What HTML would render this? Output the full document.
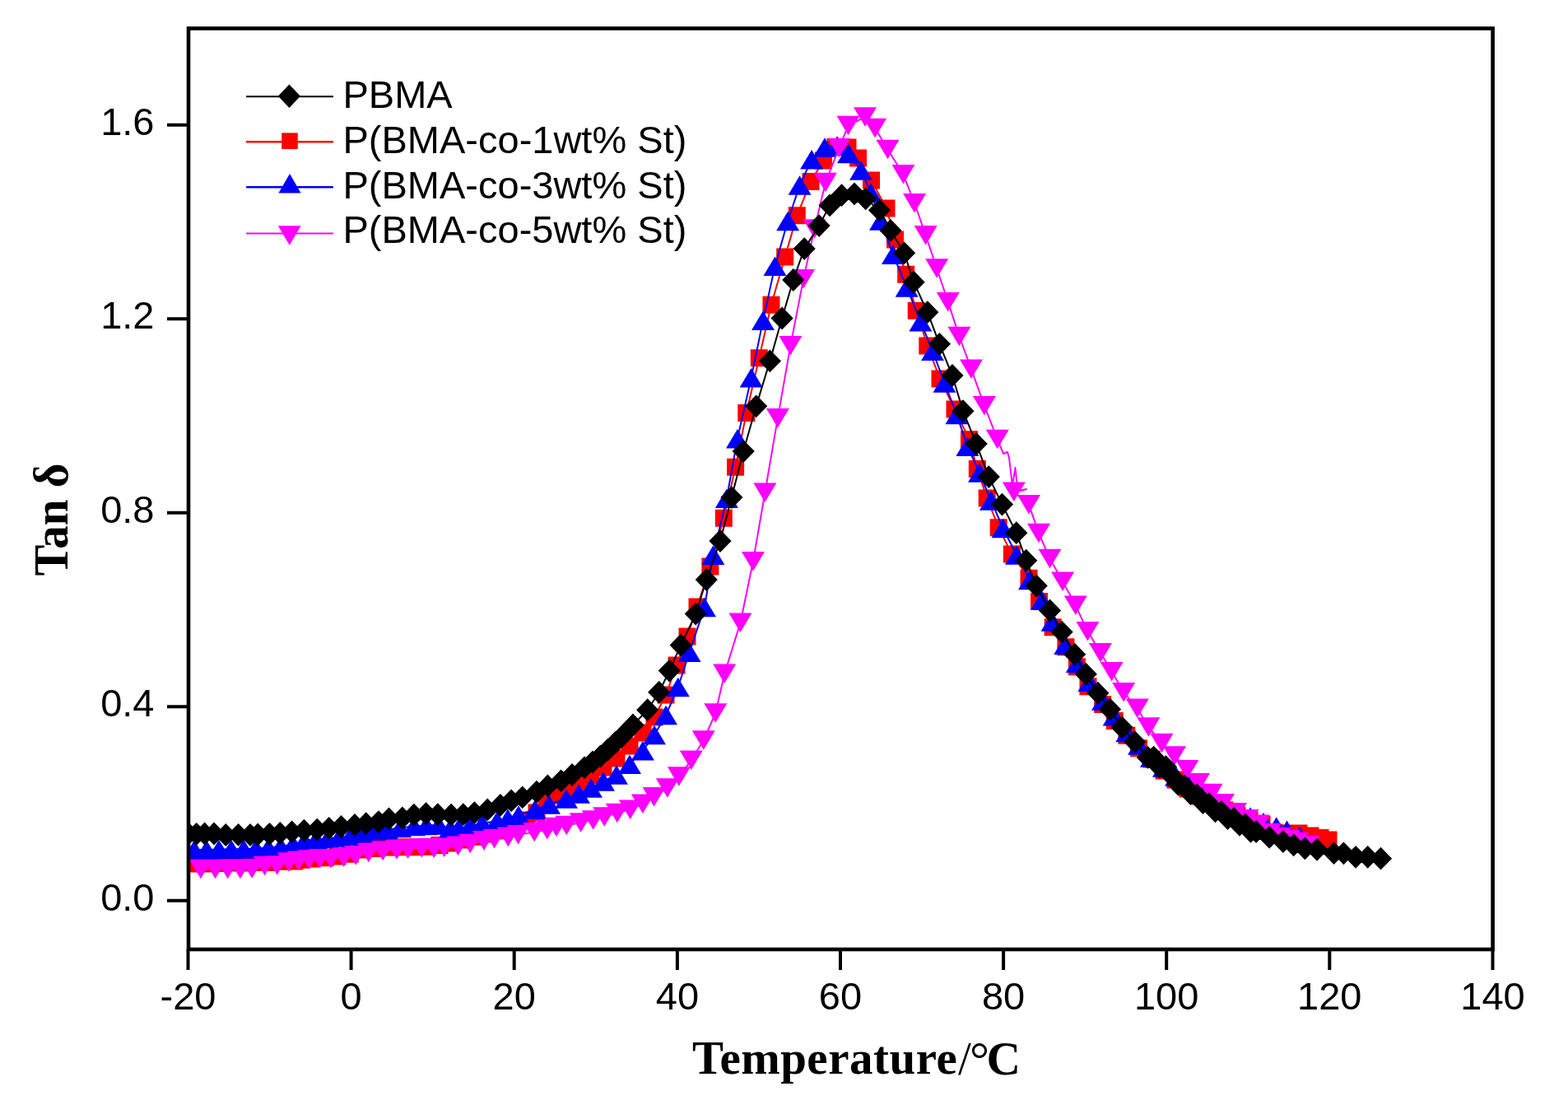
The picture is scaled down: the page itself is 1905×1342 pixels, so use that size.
<!DOCTYPE html>
<html><head><meta charset="utf-8"><title>Tan delta vs Temperature</title>
<style>html,body{margin:0;padding:0;background:#fff;}svg{display:block;}.tk{font-family:"Liberation Sans",Arial,sans-serif;font-size:47px;fill:#000;}.lg{font-family:"Liberation Sans",Arial,sans-serif;font-size:47px;fill:#000;}.ti{font-family:"Liberation Serif","Times New Roman",serif;font-weight:bold;fill:#000;}</style></head><body>
<svg width="1905" height="1342" viewBox="0 0 1905 1342">
<rect width="1905" height="1342" fill="#fff"/>
<defs><clipPath id="c"><rect x="229" y="34.5" width="1584.6" height="1118.5"/></clipPath></defs>
<g clip-path="url(#c)">
<polyline points="235,1049 252.8,1049 268.9,1048.5 284.1,1048 299.3,1048 313.7,1047.5 328.8,1047.4 344.6,1046.2 357.8,1045.9 366.6,1044.3 379.2,1043 395,1041.8 410.1,1039.9 425.2,1037.2 440.5,1032 457.3,1030.5 473.5,1029 489.3,1028.7 504,1028.7 519.7,1028.2 534,1026.5 549.1,1024 564,1020 579.6,1016.2 592,1013 605,1009 617,1005 628,1001 640,996 652,987 664,976 676,966 688,957 703,950 718,942 733,932 749,921 765,906 781,890 795,871 809,844 822,808 835,773 847,737 862.9,688 879.3,629.2 893.6,567.2 906.8,501.6 922.3,434.8 937,370.2 953.7,312.1 968.3,261.8 985,220.5 1000.4,195 1015,178.5 1030,179 1042.5,192 1058.5,219 1077,253 1087.5,291 1100.7,333.3 1113.2,377.2 1126.8,419.9 1142,460 1160,497 1177.5,533.7 1187.3,569.4 1199.2,605.1 1213.2,640.7 1229.4,673.1 1250,702.3 1262.5,730.5 1279.2,761.8 1294.9,785.8 1308.4,809.7 1322,833.7 1339.7,855.6 1354.3,875.5 1368.9,893.2 1383.5,908.8 1399.2,922 1414,936 1428,947 1443,958 1458,967 1473,976 1488,984 1503,990.5 1518,996.5 1533,1001.5 1548,1011 1565,1012 1578,1012 1592,1015 1604,1017.5 1614,1020" fill="none" stroke="#ff0000" stroke-width="2.0" stroke-linejoin="round"/>
<path d="M224.5 1038.5h21v21h-21ZM242.3 1038.5h21v21h-21ZM258.4 1038h21v21h-21ZM273.6 1037.5h21v21h-21ZM288.8 1037.5h21v21h-21ZM303.2 1037h21v21h-21ZM318.3 1036.9h21v21h-21ZM334.1 1035.7h21v21h-21ZM347.3 1035.4h21v21h-21ZM356.1 1033.8h21v21h-21ZM368.7 1032.5h21v21h-21ZM384.5 1031.3h21v21h-21ZM399.6 1029.4h21v21h-21ZM414.7 1026.7h21v21h-21ZM430 1021.5h21v21h-21ZM446.8 1020h21v21h-21ZM463 1018.5h21v21h-21ZM478.8 1018.2h21v21h-21ZM493.5 1018.2h21v21h-21ZM509.2 1017.7h21v21h-21ZM523.5 1016h21v21h-21ZM538.6 1013.5h21v21h-21ZM553.5 1009.5h21v21h-21ZM569.1 1005.7h21v21h-21ZM581.5 1002.5h21v21h-21ZM594.5 998.5h21v21h-21ZM606.5 994.5h21v21h-21ZM617.5 990.5h21v21h-21ZM629.5 985.5h21v21h-21ZM641.5 976.5h21v21h-21ZM653.5 965.5h21v21h-21ZM665.5 955.5h21v21h-21ZM677.5 946.5h21v21h-21ZM692.5 939.5h21v21h-21ZM707.5 931.5h21v21h-21ZM722.5 921.5h21v21h-21ZM738.5 910.5h21v21h-21ZM754.5 895.5h21v21h-21ZM770.5 879.5h21v21h-21ZM784.5 860.5h21v21h-21ZM798.5 833.5h21v21h-21ZM811.5 797.5h21v21h-21ZM824.5 762.5h21v21h-21ZM836.5 726.5h21v21h-21ZM852.4 677.5h21v21h-21ZM868.8 618.7h21v21h-21ZM883.1 556.7h21v21h-21ZM896.3 491.1h21v21h-21ZM911.8 424.3h21v21h-21ZM926.5 359.7h21v21h-21ZM943.2 301.6h21v21h-21ZM957.8 251.3h21v21h-21ZM974.5 210h21v21h-21ZM989.9 184.5h21v21h-21ZM1004.5 168h21v21h-21ZM1019.5 168.5h21v21h-21ZM1032 181.5h21v21h-21ZM1048 208.5h21v21h-21ZM1066.5 242.5h21v21h-21ZM1077 280.5h21v21h-21ZM1090.2 322.8h21v21h-21ZM1102.7 366.7h21v21h-21ZM1116.3 409.4h21v21h-21ZM1131.5 449.5h21v21h-21ZM1149.5 486.5h21v21h-21ZM1167 523.2h21v21h-21ZM1176.8 558.9h21v21h-21ZM1188.7 594.6h21v21h-21ZM1202.7 630.2h21v21h-21ZM1218.9 662.6h21v21h-21ZM1239.5 691.8h21v21h-21ZM1252 720h21v21h-21ZM1268.7 751.3h21v21h-21ZM1284.4 775.3h21v21h-21ZM1297.9 799.2h21v21h-21ZM1311.5 823.2h21v21h-21ZM1329.2 845.1h21v21h-21ZM1343.8 865h21v21h-21ZM1358.4 882.7h21v21h-21ZM1373 898.3h21v21h-21ZM1388.7 911.5h21v21h-21ZM1403.5 925.5h21v21h-21ZM1417.5 936.5h21v21h-21ZM1432.5 947.5h21v21h-21ZM1447.5 956.5h21v21h-21ZM1462.5 965.5h21v21h-21ZM1477.5 973.5h21v21h-21ZM1492.5 980h21v21h-21ZM1507.5 986h21v21h-21ZM1522.5 991h21v21h-21ZM1537.5 1000.5h21v21h-21ZM1554.5 1001.5h21v21h-21ZM1567.5 1001.5h21v21h-21ZM1581.5 1004.5h21v21h-21ZM1593.5 1007h21v21h-21ZM1603.5 1009.5h21v21h-21Z" fill="#ff0000"/>
<polyline points="236,1032 251,1032 266,1031.5 281,1031.5 296,1031 311,1030.5 326,1029.5 341,1028 356,1025.5 370,1021 384,1019.5 398,1018.5 412,1017 426,1015 440,1012 456,1009 470,1007.5 486,1005.5 503,1003.5 518,1002.5 533,1002 547,1006 557,1006 571,1003 586,1000 604,997 617,994 630,990 650,983 667,977 688,970 703,964 718,957 733,949 749,941 765,928.3 780.9,911.6 795,892.5 809,868.5 823.8,834.5 837.6,792.2 856,737.5 866.4,674.2 882.9,605.3 896,532.6 912.7,458.7 927,389.4 941.5,323.3 957.1,268.5 971.6,225 986.1,193.7 1002,179 1017.1,177 1031,186.5 1046,207 1058,234 1070,268 1085,309.4 1101.7,349 1118.4,390.7 1133,426.2 1147.5,465 1162.4,503.5 1175.4,542.4 1190,574 1204,608 1218.6,641.5 1235,674 1251,704.5 1266,729 1278.6,755 1294.2,783.3 1308.8,805.2 1323.4,828.1 1340,851 1353.7,869.8 1369.3,889.5 1384,905 1399,920 1414,932 1429,943 1444,953 1459,962 1474,971 1489,979 1504,986 1519,992 1535,998.5 1550.7,1004 1563.5,1008.4 1579,1015.5" fill="none" stroke="#0000ff" stroke-width="2.0" stroke-linejoin="round"/>
<path d="M236 1020.2L250 1043.8L222 1043.8ZM251 1020.2L265 1043.8L237 1043.8ZM266 1019.8L280 1043.2L252 1043.2ZM281 1019.8L295 1043.2L267 1043.2ZM296 1019.2L310 1042.8L282 1042.8ZM311 1018.8L325 1042.2L297 1042.2ZM326 1017.8L340 1041.2L312 1041.2ZM341 1016.2L355 1039.8L327 1039.8ZM356 1013.8L370 1037.2L342 1037.2ZM370 1009.2L384 1032.8L356 1032.8ZM384 1007.8L398 1031.2L370 1031.2ZM398 1006.8L412 1030.2L384 1030.2ZM412 1005.2L426 1028.8L398 1028.8ZM426 1003.2L440 1026.8L412 1026.8ZM440 1000.2L454 1023.8L426 1023.8ZM456 997.2L470 1020.8L442 1020.8ZM470 995.8L484 1019.2L456 1019.2ZM486 993.8L500 1017.2L472 1017.2ZM503 991.8L517 1015.2L489 1015.2ZM518 990.8L532 1014.2L504 1014.2ZM533 990.2L547 1013.8L519 1013.8ZM547 994.2L561 1017.8L533 1017.8ZM557 994.2L571 1017.8L543 1017.8ZM571 991.2L585 1014.8L557 1014.8ZM586 988.2L600 1011.8L572 1011.8ZM604 985.2L618 1008.8L590 1008.8ZM617 982.2L631 1005.8L603 1005.8ZM630 978.2L644 1001.8L616 1001.8ZM650 971.2L664 994.8L636 994.8ZM667 965.2L681 988.8L653 988.8ZM688 958.2L702 981.8L674 981.8ZM703 952.2L717 975.8L689 975.8ZM718 945.2L732 968.8L704 968.8ZM733 937.2L747 960.8L719 960.8ZM749 929.2L763 952.8L735 952.8ZM765 916.5L779 940L751 940ZM780.9 899.9L794.9 923.4L766.9 923.4ZM795 880.8L809 904.2L781 904.2ZM809 856.8L823 880.2L795 880.2ZM823.8 822.8L837.8 846.2L809.8 846.2ZM837.6 780.5L851.6 804L823.6 804ZM856 725.8L870 749.2L842 749.2ZM866.4 662.5L880.4 686L852.4 686ZM882.9 593.5L896.9 617L868.9 617ZM896 520.9L910 544.4L882 544.4ZM912.7 446.9L926.7 470.4L898.7 470.4ZM927 377.6L941 401.1L913 401.1ZM941.5 311.6L955.5 335.1L927.5 335.1ZM957.1 256.8L971.1 280.2L943.1 280.2ZM971.6 213.2L985.6 236.8L957.6 236.8ZM986.1 181.9L1000.1 205.4L972.1 205.4ZM1002 167.2L1016 190.8L988 190.8ZM1017.1 165.2L1031.1 188.8L1003.1 188.8ZM1031 174.8L1045 198.2L1017 198.2ZM1046 195.2L1060 218.8L1032 218.8ZM1058 222.2L1072 245.8L1044 245.8ZM1070 256.2L1084 279.8L1056 279.8ZM1085 297.6L1099 321.1L1071 321.1ZM1101.7 337.2L1115.7 360.8L1087.7 360.8ZM1118.4 378.9L1132.4 402.4L1104.4 402.4ZM1133 414.4L1147 437.9L1119 437.9ZM1147.5 453.2L1161.5 476.8L1133.5 476.8ZM1162.4 491.8L1176.4 515.2L1148.4 515.2ZM1175.4 530.6L1189.4 554.1L1161.4 554.1ZM1190 562.2L1204 585.8L1176 585.8ZM1204 596.2L1218 619.8L1190 619.8ZM1218.6 629.8L1232.6 653.2L1204.6 653.2ZM1235 662.2L1249 685.8L1221 685.8ZM1251 692.8L1265 716.2L1237 716.2ZM1266 717.2L1280 740.8L1252 740.8ZM1278.6 743.2L1292.6 766.8L1264.6 766.8ZM1294.2 771.5L1308.2 795L1280.2 795ZM1308.8 793.5L1322.8 817L1294.8 817ZM1323.4 816.4L1337.4 839.9L1309.4 839.9ZM1340 839.2L1354 862.8L1326 862.8ZM1353.7 858L1367.7 881.5L1339.7 881.5ZM1369.3 877.8L1383.3 901.2L1355.3 901.2ZM1384 893.2L1398 916.8L1370 916.8ZM1399 908.2L1413 931.8L1385 931.8ZM1414 920.2L1428 943.8L1400 943.8ZM1429 931.2L1443 954.8L1415 954.8ZM1444 941.2L1458 964.8L1430 964.8ZM1459 950.2L1473 973.8L1445 973.8ZM1474 959.2L1488 982.8L1460 982.8ZM1489 967.2L1503 990.8L1475 990.8ZM1504 974.2L1518 997.8L1490 997.8ZM1519 980.2L1533 1003.8L1505 1003.8ZM1535 986.8L1549 1010.2L1521 1010.2ZM1550.7 992.2L1564.7 1015.8L1536.7 1015.8ZM1563.5 996.6L1577.5 1020.1L1549.5 1020.1ZM1579 1003.8L1593 1027.2L1565 1027.2Z" fill="#0000ff"/>
<polyline points="243.9,1055.5 261.5,1055.5 276.7,1055.5 291.9,1055.5 306.2,1055 321.6,1051.6 336.7,1051 350.9,1046.9 362.8,1045.3 375.5,1044 388.7,1042.8 401.9,1042.8 417.6,1040.9 432.1,1039 447.8,1035.6 465.1,1033.5 482,1031.9 495.6,1030.9 512.4,1029.8 527.1,1030.3 539.7,1029.3 556.5,1027.2 571.2,1024.6 588,1020.9 600.6,1018.8 617.4,1016.4 629.6,1013.8 649.2,1010.5 664.8,1007.7 676,1004.5 688.3,1002.5 705.7,999 720.7,996 734.2,992 749.8,987.5 765.7,983.1 780.9,976.4 794.6,967.7 810.8,957 824.9,943 839.8,923.3 854.8,899 869.3,866 880.2,818.3 899.5,756.3 915,681.7 929.4,598.2 944.9,507.6 960.4,419.6 976.1,338.9 989.5,278 1002.9,221.5 1019.5,179.5 1030.5,152.5 1051,142 1063.1,155.4 1078.5,181.5 1097.5,211.8 1111.1,246.8 1124.7,285.9 1138.2,326 1151.8,366.6 1165.4,408.5 1180,448.2 1195.9,492.7 1211.8,533.5 1219,551 1224,549 1226,556 1230,590 1233.5,568 1236,592 1241,596 1247,594 1231.9,597.2 1250,612.9 1262,647.5 1275.5,678.5 1291.1,706.1 1306.8,735.3 1321.4,766.6 1337,792.6 1350.6,815.6 1365.2,840.6 1381.8,860.4 1395.4,883 1411.5,902.5 1427,918 1442.3,934.6 1456,950.6 1471.6,963.5 1486,975.8 1501,986.8 1515.5,994.8 1529.2,1001.2 1542.7,1011.5 1555,1016.5 1566,1019.5 1576,1022.5 1589.5,1026.7" fill="none" stroke="#ff00ff" stroke-width="2.0" stroke-linejoin="round"/>
<path d="M229.9 1043.8L257.9 1043.8L243.9 1067.2ZM247.5 1043.8L275.5 1043.8L261.5 1067.2ZM262.7 1043.8L290.7 1043.8L276.7 1067.2ZM277.9 1043.8L305.9 1043.8L291.9 1067.2ZM292.2 1043.2L320.2 1043.2L306.2 1066.8ZM307.6 1039.8L335.6 1039.8L321.6 1063.3ZM322.7 1039.2L350.7 1039.2L336.7 1062.8ZM336.9 1035.2L364.9 1035.2L350.9 1058.7ZM348.8 1033.5L376.8 1033.5L362.8 1057ZM361.5 1032.2L389.5 1032.2L375.5 1055.8ZM374.7 1031L402.7 1031L388.7 1054.5ZM387.9 1031L415.9 1031L401.9 1054.5ZM403.6 1029.2L431.6 1029.2L417.6 1052.7ZM418.1 1027.2L446.1 1027.2L432.1 1050.8ZM433.8 1023.8L461.8 1023.8L447.8 1047.3ZM451.1 1021.8L479.1 1021.8L465.1 1045.2ZM468 1020.2L496 1020.2L482 1043.7ZM481.6 1019.2L509.6 1019.2L495.6 1042.7ZM498.4 1018L526.4 1018L512.4 1041.5ZM513.1 1018.5L541.1 1018.5L527.1 1042ZM525.7 1017.5L553.7 1017.5L539.7 1041ZM542.5 1015.5L570.5 1015.5L556.5 1039ZM557.2 1012.8L585.2 1012.8L571.2 1036.3ZM574 1009.1L602 1009.1L588 1032.7ZM586.6 1007L614.6 1007L600.6 1030.5ZM603.4 1004.6L631.4 1004.6L617.4 1028.2ZM615.6 1002L643.6 1002L629.6 1025.5ZM635.2 998.8L663.2 998.8L649.2 1022.2ZM650.8 996L678.8 996L664.8 1019.5ZM662 992.8L690 992.8L676 1016.2ZM674.3 990.8L702.3 990.8L688.3 1014.2ZM691.7 987.2L719.7 987.2L705.7 1010.8ZM706.7 984.2L734.7 984.2L720.7 1007.8ZM720.2 980.2L748.2 980.2L734.2 1003.8ZM735.8 975.8L763.8 975.8L749.8 999.2ZM751.7 971.4L779.7 971.4L765.7 994.9ZM766.9 964.6L794.9 964.6L780.9 988.1ZM780.6 956L808.6 956L794.6 979.5ZM796.8 945.2L824.8 945.2L810.8 968.8ZM810.9 931.2L838.9 931.2L824.9 954.8ZM825.8 911.5L853.8 911.5L839.8 935ZM840.8 887.2L868.8 887.2L854.8 910.8ZM855.3 854.2L883.3 854.2L869.3 877.8ZM866.2 806.5L894.2 806.5L880.2 830ZM885.5 744.5L913.5 744.5L899.5 768ZM901 670L929 670L915 693.5ZM915.4 586.5L943.4 586.5L929.4 610ZM930.9 495.9L958.9 495.9L944.9 519.4ZM946.4 407.9L974.4 407.9L960.4 431.4ZM962.1 327.1L990.1 327.1L976.1 350.6ZM975.5 266.2L1003.5 266.2L989.5 289.8ZM988.9 209.8L1016.9 209.8L1002.9 233.2ZM1005.5 167.8L1033.5 167.8L1019.5 191.2ZM1016.5 140.8L1044.5 140.8L1030.5 164.2ZM1037 130.2L1065 130.2L1051 153.8ZM1049.1 143.7L1077.1 143.7L1063.1 167.2ZM1064.5 169.8L1092.5 169.8L1078.5 193.2ZM1083.5 200.1L1111.5 200.1L1097.5 223.6ZM1097.1 235.1L1125.1 235.1L1111.1 258.6ZM1110.7 274.1L1138.7 274.1L1124.7 297.6ZM1124.2 314.2L1152.2 314.2L1138.2 337.8ZM1137.8 354.9L1165.8 354.9L1151.8 378.4ZM1151.4 396.8L1179.4 396.8L1165.4 420.2ZM1166 436.4L1194 436.4L1180 459.9ZM1181.9 480.9L1209.9 480.9L1195.9 504.4ZM1197.8 521.8L1225.8 521.8L1211.8 545.2ZM1217.9 585.5L1245.9 585.5L1231.9 609ZM1236 601.1L1264 601.1L1250 624.6ZM1248 635.8L1276 635.8L1262 659.2ZM1261.5 666.8L1289.5 666.8L1275.5 690.2ZM1277.1 694.4L1305.1 694.4L1291.1 717.9ZM1292.8 723.5L1320.8 723.5L1306.8 747ZM1307.4 754.9L1335.4 754.9L1321.4 778.4ZM1323 780.9L1351 780.9L1337 804.4ZM1336.6 803.9L1364.6 803.9L1350.6 827.4ZM1351.2 828.9L1379.2 828.9L1365.2 852.4ZM1367.8 848.6L1395.8 848.6L1381.8 872.1ZM1381.4 871.2L1409.4 871.2L1395.4 894.8ZM1397.5 890.8L1425.5 890.8L1411.5 914.2ZM1413 906.2L1441 906.2L1427 929.8ZM1428.3 922.9L1456.3 922.9L1442.3 946.4ZM1442 938.9L1470 938.9L1456 962.4ZM1457.6 951.8L1485.6 951.8L1471.6 975.2ZM1472 964L1500 964L1486 987.5ZM1487 975L1515 975L1501 998.5ZM1501.5 983L1529.5 983L1515.5 1006.5ZM1515.2 989.5L1543.2 989.5L1529.2 1013ZM1528.7 999.8L1556.7 999.8L1542.7 1023.2ZM1541 1004.8L1569 1004.8L1555 1028.2ZM1552 1007.8L1580 1007.8L1566 1031.2ZM1562 1010.8L1590 1010.8L1576 1034.2ZM1575.5 1015L1603.5 1015L1589.5 1038.5Z" fill="#ff00ff"/>
<polyline points="229,1012.5 238.7,1012.8 248.6,1012.5 260,1012.5 274.3,1014 289.6,1013.8 304,1014 313.2,1013.5 327.5,1012.8 340.3,1011.8 354.6,1010.3 369.4,1008.7 385.2,1007.6 399.7,1005.8 414.5,1004 431,1002 444.7,1000.2 459.9,998.1 472.5,994.4 488.8,993.4 502.9,989.7 517.6,988.1 531.8,989.2 548.1,989.7 562.8,989.2 576.4,987.1 592.2,983.4 607.9,977.8 621.2,972.3 634.7,968.4 652,961.7 665.4,954.4 681.6,948.3 695,941 710.1,932.1 720,925.5 729.5,918.5 738.5,910.5 747.5,902 756.5,893.5 769,880.5 786.7,862.2 800.7,840.7 813.3,814.6 827.2,783.5 845.3,745.6 858.3,704 875,657 888.9,604.1 903.2,548.1 918.7,493.3 935.4,438.4 950.1,386.5 963.8,340 977.2,302.1 995.1,274.1 1008.1,249.4 1022.5,237.2 1038,235.3 1051.7,241.3 1068.5,255.2 1082,280 1098.6,307.3 1110.1,342.7 1126.8,379.2 1141.4,417.8 1157,456 1170,499.2 1186.2,539.1 1201.3,579.1 1217.5,612.6 1234.8,647.2 1246.7,680.7 1259.2,711.5 1275.5,741.5 1290.1,767.6 1305.7,794.7 1319.3,818.7 1333.9,841.7 1348.5,861.5 1363.1,883.4 1378.7,901.1 1394.4,919.9 1401.7,919.7 1409,931.5 1416.5,931.2 1424,943 1431.5,952.8 1439,954.5 1446.5,964 1454,965.5 1461.5,975 1469,976.5 1476.5,985.3 1484,986 1491.5,994 1499,994 1506,1001.8 1513,1001.5 1519.5,1009.8 1526.1,1010 1542.2,1016.9 1558.9,1022.1 1571.7,1026.3 1585.4,1030.4 1600,1031.8 1620.6,1036.1 1632.4,1036.3 1647.1,1040.8 1661.7,1040.8 1677.5,1042.7" fill="none" stroke="#000000" stroke-width="2.0" stroke-linejoin="round"/>
<path d="M229 998.6L242.6 1012.5L229 1026.4L215.4 1012.5ZM238.7 998.9L252.3 1012.8L238.7 1026.7L225.1 1012.8ZM248.6 998.6L262.2 1012.5L248.6 1026.4L235 1012.5ZM260 998.6L273.6 1012.5L260 1026.4L246.4 1012.5ZM274.3 1000.1L287.9 1014L274.3 1027.9L260.7 1014ZM289.6 999.9L303.2 1013.8L289.6 1027.7L276 1013.8ZM304 1000.1L317.6 1014L304 1027.9L290.4 1014ZM313.2 999.6L326.8 1013.5L313.2 1027.4L299.6 1013.5ZM327.5 998.9L341.1 1012.8L327.5 1026.7L313.9 1012.8ZM340.3 997.9L353.9 1011.8L340.3 1025.7L326.7 1011.8ZM354.6 996.4L368.2 1010.3L354.6 1024.2L341 1010.3ZM369.4 994.8L383 1008.7L369.4 1022.6L355.8 1008.7ZM385.2 993.7L398.8 1007.6L385.2 1021.5L371.6 1007.6ZM399.7 991.9L413.3 1005.8L399.7 1019.7L386.1 1005.8ZM414.5 990.1L428.1 1004L414.5 1017.9L400.9 1004ZM431 988.1L444.6 1002L431 1015.9L417.4 1002ZM444.7 986.3L458.3 1000.2L444.7 1014.1L431.1 1000.2ZM459.9 984.2L473.5 998.1L459.9 1012L446.3 998.1ZM472.5 980.5L486.1 994.4L472.5 1008.3L458.9 994.4ZM488.8 979.5L502.4 993.4L488.8 1007.3L475.2 993.4ZM502.9 975.8L516.5 989.7L502.9 1003.6L489.3 989.7ZM517.6 974.2L531.2 988.1L517.6 1002L504 988.1ZM531.8 975.3L545.4 989.2L531.8 1003.1L518.2 989.2ZM548.1 975.8L561.7 989.7L548.1 1003.6L534.5 989.7ZM562.8 975.3L576.4 989.2L562.8 1003.1L549.2 989.2ZM576.4 973.2L590 987.1L576.4 1001L562.8 987.1ZM592.2 969.5L605.8 983.4L592.2 997.3L578.6 983.4ZM607.9 963.9L621.5 977.8L607.9 991.7L594.3 977.8ZM621.2 958.4L634.8 972.3L621.2 986.2L607.6 972.3ZM634.7 954.5L648.3 968.4L634.7 982.3L621.1 968.4ZM652 947.8L665.6 961.7L652 975.6L638.4 961.7ZM665.4 940.5L679 954.4L665.4 968.3L651.8 954.4ZM681.6 934.4L695.2 948.3L681.6 962.2L668 948.3ZM695 927.1L708.6 941L695 954.9L681.4 941ZM710.1 918.2L723.7 932.1L710.1 946L696.5 932.1ZM720 911.6L733.6 925.5L720 939.4L706.4 925.5ZM729.5 904.6L743.1 918.5L729.5 932.4L715.9 918.5ZM738.5 896.6L752.1 910.5L738.5 924.4L724.9 910.5ZM747.5 888.1L761.1 902L747.5 915.9L733.9 902ZM756.5 879.6L770.1 893.5L756.5 907.4L742.9 893.5ZM769 866.6L782.6 880.5L769 894.4L755.4 880.5ZM786.7 848.3L800.3 862.2L786.7 876.1L773.1 862.2ZM800.7 826.8L814.3 840.7L800.7 854.6L787.1 840.7ZM813.3 800.7L826.9 814.6L813.3 828.5L799.7 814.6ZM827.2 769.6L840.8 783.5L827.2 797.4L813.6 783.5ZM845.3 731.7L858.9 745.6L845.3 759.5L831.7 745.6ZM858.3 690.1L871.9 704L858.3 717.9L844.7 704ZM875 643.1L888.6 657L875 670.9L861.4 657ZM888.9 590.2L902.5 604.1L888.9 618L875.3 604.1ZM903.2 534.2L916.8 548.1L903.2 562L889.6 548.1ZM918.7 479.4L932.3 493.3L918.7 507.2L905.1 493.3ZM935.4 424.5L949 438.4L935.4 452.3L921.8 438.4ZM950.1 372.6L963.7 386.5L950.1 400.4L936.5 386.5ZM963.8 326.1L977.4 340L963.8 353.9L950.2 340ZM977.2 288.2L990.8 302.1L977.2 316L963.6 302.1ZM995.1 260.2L1008.7 274.1L995.1 288L981.5 274.1ZM1008.1 235.5L1021.7 249.4L1008.1 263.3L994.5 249.4ZM1022.5 223.3L1036.1 237.2L1022.5 251.1L1008.9 237.2ZM1038 221.4L1051.6 235.3L1038 249.2L1024.4 235.3ZM1051.7 227.4L1065.3 241.3L1051.7 255.2L1038.1 241.3ZM1068.5 241.3L1082.1 255.2L1068.5 269.1L1054.9 255.2ZM1082 266.1L1095.6 280L1082 293.9L1068.4 280ZM1098.6 293.4L1112.2 307.3L1098.6 321.2L1085 307.3ZM1110.1 328.8L1123.7 342.7L1110.1 356.6L1096.5 342.7ZM1126.8 365.3L1140.4 379.2L1126.8 393.1L1113.2 379.2ZM1141.4 403.9L1155 417.8L1141.4 431.7L1127.8 417.8ZM1157 442.1L1170.6 456L1157 469.9L1143.4 456ZM1170 485.3L1183.6 499.2L1170 513.1L1156.4 499.2ZM1186.2 525.2L1199.8 539.1L1186.2 553L1172.6 539.1ZM1201.3 565.2L1214.9 579.1L1201.3 593L1187.7 579.1ZM1217.5 598.7L1231.1 612.6L1217.5 626.5L1203.9 612.6ZM1234.8 633.3L1248.4 647.2L1234.8 661.1L1221.2 647.2ZM1246.7 666.8L1260.3 680.7L1246.7 694.6L1233.1 680.7ZM1259.2 697.6L1272.8 711.5L1259.2 725.4L1245.6 711.5ZM1275.5 727.6L1289.1 741.5L1275.5 755.4L1261.9 741.5ZM1290.1 753.7L1303.7 767.6L1290.1 781.5L1276.5 767.6ZM1305.7 780.8L1319.3 794.7L1305.7 808.6L1292.1 794.7ZM1319.3 804.8L1332.9 818.7L1319.3 832.6L1305.7 818.7ZM1333.9 827.8L1347.5 841.7L1333.9 855.6L1320.3 841.7ZM1348.5 847.6L1362.1 861.5L1348.5 875.4L1334.9 861.5ZM1363.1 869.5L1376.7 883.4L1363.1 897.3L1349.5 883.4ZM1378.7 887.2L1392.3 901.1L1378.7 915L1365.1 901.1ZM1394.4 906L1408 919.9L1394.4 933.8L1380.8 919.9ZM1401.7 905.8L1415.3 919.7L1401.7 933.6L1388.1 919.7ZM1409 917.6L1422.6 931.5L1409 945.4L1395.4 931.5ZM1416.5 917.3L1430.1 931.2L1416.5 945.1L1402.9 931.2ZM1424 929.1L1437.6 943L1424 956.9L1410.4 943ZM1431.5 938.9L1445.1 952.8L1431.5 966.7L1417.9 952.8ZM1439 940.6L1452.6 954.5L1439 968.4L1425.4 954.5ZM1446.5 950.1L1460.1 964L1446.5 977.9L1432.9 964ZM1454 951.6L1467.6 965.5L1454 979.4L1440.4 965.5ZM1461.5 961.1L1475.1 975L1461.5 988.9L1447.9 975ZM1469 962.6L1482.6 976.5L1469 990.4L1455.4 976.5ZM1476.5 971.4L1490.1 985.3L1476.5 999.2L1462.9 985.3ZM1484 972.1L1497.6 986L1484 999.9L1470.4 986ZM1491.5 980.1L1505.1 994L1491.5 1007.9L1477.9 994ZM1499 980.1L1512.6 994L1499 1007.9L1485.4 994ZM1506 987.9L1519.6 1001.8L1506 1015.7L1492.4 1001.8ZM1513 987.6L1526.6 1001.5L1513 1015.4L1499.4 1001.5ZM1519.5 995.9L1533.1 1009.8L1519.5 1023.7L1505.9 1009.8ZM1526.1 996.1L1539.7 1010L1526.1 1023.9L1512.5 1010ZM1542.2 1003L1555.8 1016.9L1542.2 1030.8L1528.6 1016.9ZM1558.9 1008.2L1572.5 1022.1L1558.9 1036L1545.3 1022.1ZM1571.7 1012.4L1585.3 1026.3L1571.7 1040.2L1558.1 1026.3ZM1585.4 1016.5L1599 1030.4L1585.4 1044.3L1571.8 1030.4ZM1600 1017.9L1613.6 1031.8L1600 1045.7L1586.4 1031.8ZM1620.6 1022.2L1634.2 1036.1L1620.6 1050L1607 1036.1ZM1632.4 1022.4L1646 1036.3L1632.4 1050.2L1618.8 1036.3ZM1647.1 1026.9L1660.7 1040.8L1647.1 1054.7L1633.5 1040.8ZM1661.7 1026.9L1675.3 1040.8L1661.7 1054.7L1648.1 1040.8ZM1677.5 1028.8L1691.1 1042.7L1677.5 1056.6L1663.9 1042.7Z" fill="#000000"/>
</g>
<rect x="229" y="34.5" width="1584.6" height="1118.5" fill="none" stroke="#000" stroke-width="4.6"/>
<path d="M228.5 1153V1178M426.6 1153V1178M624.7 1153V1178M822.9 1153V1178M1021 1153V1178M1219.1 1153V1178M1417.2 1153V1178M1615.3 1153V1178M1813.5 1153V1178M229 1093.8H203M229 858.3H203M229 622.8H203M229 387.3H203M229 151.8H203" stroke="#000" stroke-width="4" fill="none"/>
<text class="tk" x="228.5" y="1226.1" text-anchor="middle">-20</text>
<text class="tk" x="426.6" y="1226.1" text-anchor="middle">0</text>
<text class="tk" x="624.7" y="1226.1" text-anchor="middle">20</text>
<text class="tk" x="822.9" y="1226.1" text-anchor="middle">40</text>
<text class="tk" x="1021" y="1226.1" text-anchor="middle">60</text>
<text class="tk" x="1219.1" y="1226.1" text-anchor="middle">80</text>
<text class="tk" x="1417.2" y="1226.1" text-anchor="middle">100</text>
<text class="tk" x="1615.3" y="1226.1" text-anchor="middle">120</text>
<text class="tk" x="1813.5" y="1226.1" text-anchor="middle">140</text>
<text class="tk" x="187.5" y="1105.9" text-anchor="end">0.0</text>
<text class="tk" x="187.5" y="870.4" text-anchor="end">0.4</text>
<text class="tk" x="187.5" y="634.9" text-anchor="end">0.8</text>
<text class="tk" x="187.5" y="399.4" text-anchor="end">1.2</text>
<text class="tk" x="187.5" y="163.9" text-anchor="end">1.6</text>
<text class="ti" x="841.1" y="1304.2" font-size="57" letter-spacing="0.5">Temperature</text>
<text class="ti" x="1164" y="1304.5" font-size="57" style="font-weight:normal">/</text>
<text class="ti" x="1178" y="1306.5" font-size="60" style="font-weight:normal">°</text>
<text class="ti" x="1198.5" y="1304.6" font-size="57.5">C</text>
<text class="ti" transform="translate(82.4 700.5) rotate(-90) scale(0.95 1)" x="1" y="0" font-size="60">Tan δ</text>
<path d="M299.1 117.2H404.9" stroke="#000000" stroke-width="2.0"/>
<path d="M351.4 102.6L364.9 116.8L351.4 131L337.9 116.8Z" fill="#000000"/>
<text class="lg" x="416.5" y="131.2">PBMA</text>
<path d="M299.1 172.2H404.9" stroke="#ff0000" stroke-width="2.6"/>
<path d="M342.2 161.4h19.6v19.6h-19.6Z" fill="#ff0000"/>
<text class="lg" x="416.5" y="185.6">P(BMA-co-1wt% St)</text>
<path d="M299.1 227.2H404.9" stroke="#0000ff" stroke-width="2.4"/>
<path d="M352 211L365.6 234.6L338.4 234.6Z" fill="#0000ff"/>
<text class="lg" x="416.5" y="241.4">P(BMA-co-3wt% St)</text>
<path d="M299.1 283.5H404.9" stroke="#ff00ff" stroke-width="2.0"/>
<path d="M337.8 274.2L365.6 274.2L351.7 297.8Z" fill="#ff00ff"/>
<text class="lg" x="416.5" y="295.4">P(BMA-co-5wt% St)</text>
</svg></body></html>
